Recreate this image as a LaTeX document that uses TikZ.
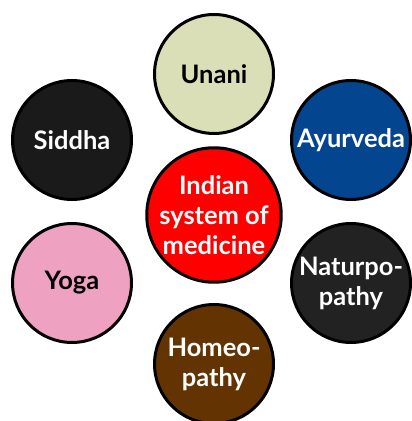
\documentclass[tikz,border=0pt]{standalone}
\usepackage{fontspec}
\setmainfont{Lato}
\usetikzlibrary{positioning}
\definecolor{cunani}{HTML}{DADFB8}
\definecolor{csiddha}{HTML}{1A1A1A}
\definecolor{cayur}{HTML}{03458F}
\definecolor{cred}{HTML}{FF0000}
\definecolor{cyoga}{HTML}{EFA1C2}
\definecolor{cnatur}{HTML}{222222}
\definecolor{chomeo}{HTML}{633302}
\tikzset{
  every picture/.style={font=\bfseries\fontsize{14.5}{17}\selectfont},
  disc/.style={circle, draw=black, line width=1.7pt, fill=#1, minimum size=2.38cm, inner sep=0pt, align=center, text=white},
  disc/.default=csiddha,
  hub/.style={disc=cred, minimum size=2.5cm},
}
\begin{document}
\begin{tikzpicture}[x=0.02cm, y=-0.02cm]
  \useasboundingbox (0,0) rectangle (411,421);
  \node[hub] (ism) at (214,215) {Indian\\system of\\medicine};
  \node[disc=cunani, text=black] (unani) at (214,74) {Unani};
  \node[disc=csiddha] (siddha) at (72,140) {Siddha};
  \node[disc=cayur] (ayur) at (351,140) {Ayurveda};
  \node[disc=cyoga, text=black] (yoga) at (72,283) {Yoga};
  \node[disc=cnatur] (natur) at (351,283) {Naturpo-\\pathy};
  \node[disc=chomeo] (homeo) at (214,364) {Homeo-\\pathy};
\end{tikzpicture}
\end{document}
